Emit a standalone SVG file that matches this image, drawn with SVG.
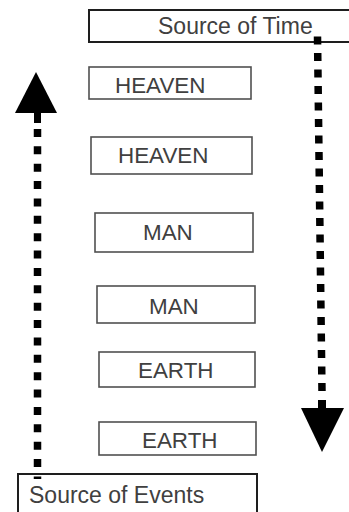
<svg xmlns="http://www.w3.org/2000/svg" width="349" height="512" viewBox="0 0 349 512">
<style>
  .bg{fill:#fff}
  .big{fill:none;stroke:#1e1e1e;stroke-width:2}
  .box{fill:#fff;stroke:#505050;stroke-width:1.6}
  .t{font-family:"Liberation Sans",Arial,sans-serif;font-size:22.4px;fill:#404040}
  .src{font-size:23px}
  .dots{fill:none;stroke:#000;stroke-width:7.5}
  .head{fill:#000}
</style>
<rect class="bg" x="0" y="0" width="349" height="512"/>
<g id="source-of-time">
  <rect class="big" x="89" y="10" width="270" height="32"/>
  <text class="t src" x="158" y="33.5">Source of Time</text>
</g>
<g id="heaven-1">
  <rect class="box" x="89" y="67" width="162" height="32"/>
  <text class="t" x="115" y="93">HEAVEN</text>
</g>
<g id="heaven-2">
  <rect class="box" x="91" y="137" width="161" height="37"/>
  <text class="t" x="118" y="163">HEAVEN</text>
</g>
<g id="man-1">
  <rect class="box" x="95" y="213" width="158" height="39"/>
  <text class="t" x="143" y="240">MAN</text>
</g>
<g id="man-2">
  <rect class="box" x="97" y="286" width="158" height="37"/>
  <text class="t" x="149" y="314">MAN</text>
</g>
<g id="earth-1">
  <rect class="box" x="99" y="352" width="156" height="35"/>
  <text class="t" x="138" y="378">EARTH</text>
</g>
<g id="earth-2">
  <rect class="box" x="99" y="422" width="157" height="33"/>
  <text class="t" x="142" y="448">EARTH</text>
</g>
<g id="source-of-events">
  <rect class="big" x="18" y="474" width="239" height="50"/>
  <text class="t src" x="29" y="502.5">Source of Events</text>
</g>
<g id="connectors">
  <line class="dots" x1="37.5" y1="129" x2="37.5" y2="479" stroke-dasharray="8 9.37"/>
  <rect class="head" x="34" y="110" width="7" height="13"/>
  <polygon class="head" points="36,72 57,113 15,113"/>
  <line class="dots" x1="317.5" y1="36.5" x2="322" y2="392" stroke-dasharray="8 8.5"/>
  <rect class="head" x="318" y="400" width="8" height="10"/>
  <polygon class="head" points="301,408 344,408 322,452"/>
</g>
</svg>
